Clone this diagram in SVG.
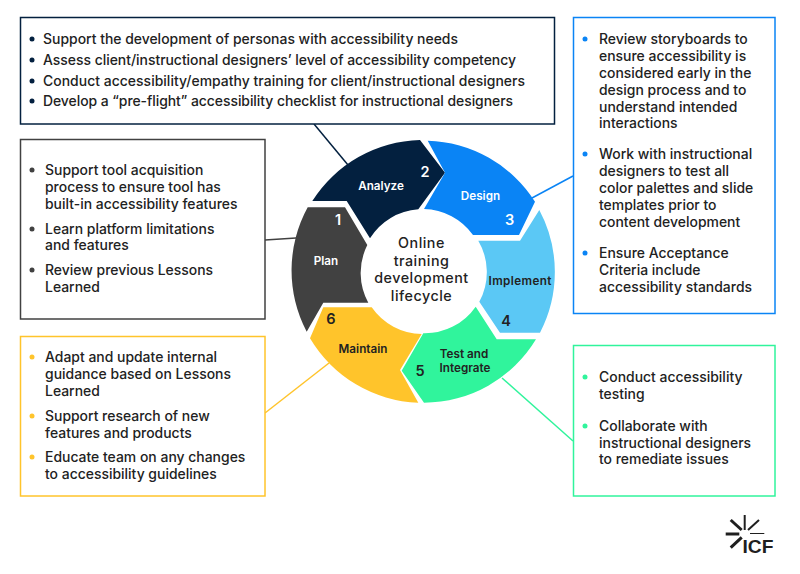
<svg xmlns="http://www.w3.org/2000/svg" width="800" height="574" viewBox="0 0 800 574">
<style>
text{font-family:"Inter","Liberation Sans",sans-serif;font-weight:500}
.t{font-size:13.95px;fill:#222}
.box{fill:#fff;stroke-width:1.5}
.seg{font-size:11.7px;font-weight:600;text-anchor:middle}
.num{font-size:14.5px;font-weight:600;text-anchor:middle}
.w{fill:#fff}.d{fill:#222}
.c{font-size:14.3px;letter-spacing:.5px;font-weight:500;fill:#222;text-anchor:middle}
#connectors line{stroke-width:1.5}
</style>
<rect width="800" height="574" fill="#fff"/>
<g id="connectors" fill="none">
<line x1="314" y1="124" x2="348" y2="165" stroke="#03203f"/>
<line x1="573" y1="176" x2="532" y2="198" stroke="#0a84f5"/>
<line x1="265" y1="240" x2="296" y2="238" stroke="#414141"/>
<line x1="265" y1="413" x2="329" y2="363" stroke="#ffc42b"/>
<line x1="502" y1="378" x2="573" y2="441" stroke="#30f49c"/>
</g>
<g id="analyze">
<path d="M312.3 201A131.5 131.5 0 0 1 420 140L445 172.7L418.3 209.3A62 62 0 0 0 370 238.3L346.7 201Z" fill="#03203f"/>
<text class="seg w" x="381" y="190">Analyze</text><text class="num w" x="425" y="177">2</text>
</g>
<g id="design">
<path d="M427.7 140.700A131.500 131.500 0 0 1 535 201.700L519 235H473A62 62 0 0 0 424 209L445 172.700Z" fill="#0a84f5"/>
<text class="seg w" x="480.500" y="200">Design</text><text class="num w" x="509.500" y="225">3</text>
</g>
<g id="implement">
<path d="M539.300 210A131.500 131.500 0 0 1 540 332.700H500L479.300 301.700A62 62 0 0 0 478.300 240.700H520Z" fill="#5bc8f5"/>
<text class="seg d" x="520" y="285" textLength="63">Implement</text><text class="num d" x="506" y="326">4</text>
</g>
<g id="test">
<path d="M536 339.300A131.500 131.500 0 0 1 424 402.700L401.700 370.700L423.300 333.300A62 62 0 0 0 475.700 306.700L496.700 339.300Z" fill="#30f49c"/>
<text class="seg d" x="464" y="358">Test and</text><text class="seg d" x="465" y="372">Integrate</text><text class="num d" x="420" y="376">5</text>
</g>
<g id="maintain">
<path d="M310 338.300A131.500 131.500 0 0 0 418.300 402.700L400 370L421.700 334A62 62 0 0 1 371.700 307.300H323.300Z" fill="#ffc42b"/>
<text class="seg d" x="363" y="353">Maintain</text><text class="num d" x="331" y="324">6</text>
</g>
<g id="plan">
<path d="M307.700 207.300A131.500 131.500 0 0 0 306.700 331.700L323.300 302.700H368.300A62 62 0 0 1 367.300 245L345 207.300Z" fill="#414141"/>
<text class="seg w" x="326" y="265">Plan</text><text class="num w" x="338" y="225">1</text>
</g>
<g id="center">
<text class="c" x="421.500" y="248">Online</text><text class="c" x="421.500" y="265.500">training</text><text class="c" x="421.500" y="283">development</text><text class="c" x="421.500" y="300.500">lifecycle</text>
</g>
<g id="box-analyze" fill="#03203f">
<rect class="box" x="20.500" y="17.500" width="534" height="106.500" stroke="#03203f"/>
<circle cx="32" cy="39" r="2.500"/><circle cx="32" cy="60" r="2.500"/><circle cx="32" cy="81" r="2.500"/><circle cx="32" cy="101" r="2.500"/>
<text class="t" x="43" y="44" textLength="415">Support the development of personas with accessibility needs</text>
<text class="t" x="43" y="65" textLength="473">Assess client/instructional designers’ level of accessibility competency</text>
<text class="t" x="43" y="86" textLength="482">Conduct accessibility/empathy training for client/instructional designers</text>
<text class="t" x="43" y="106" textLength="470">Develop a “pre-flight” accessibility checklist for instructional designers</text>
</g>
<g id="box-plan" fill="#414141">
<rect class="box" x="20.500" y="139.500" width="244.500" height="179.500" stroke="#414141"/>
<circle cx="32" cy="170" r="2.500"/><circle cx="32" cy="229" r="2.500"/><circle cx="32" cy="270" r="2.500"/>
<text class="t" x="45" y="175">Support tool acquisition</text><text class="t" x="45" y="192">process to ensure tool has</text><text class="t" x="45" y="209">built-in accessibility features</text>
<text class="t" x="45" y="234">Learn platform limitations</text><text class="t" x="45" y="250">and features</text>
<text class="t" x="45" y="275">Review previous Lessons</text><text class="t" x="45" y="292">Learned</text>
</g>
<g id="box-maintain" fill="#ffc42b">
<rect class="box" x="20.500" y="336.500" width="244.500" height="159.500" stroke="#ffc42b"/>
<circle cx="32" cy="357" r="2.500"/><circle cx="32" cy="416" r="2.500"/><circle cx="32" cy="457" r="2.500"/>
<text class="t" x="45" y="362">Adapt and update internal</text><text class="t" x="45" y="379">guidance based on Lessons</text><text class="t" x="45" y="396">Learned</text>
<text class="t" x="45" y="421">Support research of new</text><text class="t" x="45" y="438">features and products</text>
<text class="t" x="45" y="462">Educate team on any changes</text><text class="t" x="45" y="479">to accessibility guidelines</text>
</g>
<g id="box-design" fill="#0a84f5">
<rect class="box" x="573.500" y="17.500" width="201.500" height="296" stroke="#0a84f5"/>
<circle cx="585" cy="39" r="2.500"/><circle cx="585" cy="154" r="2.500"/><circle cx="585" cy="253" r="2.500"/>
<text class="t" x="599" y="44">Review storyboards to</text><text class="t" x="599" y="61">ensure accessibility is</text><text class="t" x="599" y="78">considered early in the</text><text class="t" x="599" y="95">design process and to</text><text class="t" x="599" y="112">understand intended</text><text class="t" x="599" y="128">interactions</text>
<text class="t" x="599" y="159">Work with instructional</text><text class="t" x="599" y="176">designers to test all</text><text class="t" x="599" y="193">color palettes and slide</text><text class="t" x="599" y="210">templates prior to</text><text class="t" x="599" y="227">content development</text>
<text class="t" x="599" y="258">Ensure Acceptance</text><text class="t" x="599" y="275">Criteria include</text><text class="t" x="599" y="292">accessibility standards</text>
</g>
<g id="box-test" fill="#30f49c">
<rect class="box" x="573.500" y="345.500" width="201.500" height="150.500" stroke="#30f49c"/>
<circle cx="585" cy="377" r="2.500"/><circle cx="585" cy="426" r="2.500"/>
<text class="t" x="599" y="382">Conduct accessibility</text><text class="t" x="599" y="399">testing</text>
<text class="t" x="599" y="431">Collaborate with</text><text class="t" x="599" y="448">instructional designers</text><text class="t" x="599" y="464">to remediate issues</text>
</g>
<g id="logo">
<g stroke="#1f1f1f" fill="none">
<line x1="744.700" y1="515" x2="744.700" y2="530" stroke-width="2"/><line x1="730.700" y1="520" x2="741.700" y2="530" stroke-width="3"/><line x1="759" y1="520" x2="748" y2="530" stroke-width="2"/><line x1="725.700" y1="534" x2="739.300" y2="534" stroke-width="3"/><line x1="750" y1="533.500" x2="764.300" y2="533.500" stroke-width="1"/><line x1="730.700" y1="547.700" x2="741.700" y2="537.300" stroke-width="3"/>
</g>
<text x="742.500" y="552.700" textLength="31" lengthAdjust="spacingAndGlyphs" style="font-family:'Liberation Sans',sans-serif;font-weight:700;font-size:19px" fill="#1f1f1f">ICF</text>
</g>
</svg>
